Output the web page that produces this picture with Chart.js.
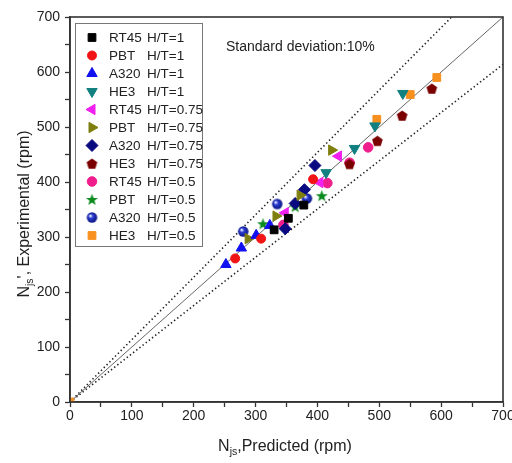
<!DOCTYPE html>
<html>
<head>
<meta charset="utf-8">
<script src="https://cdn.jsdelivr.net/npm/chart.js@4/dist/chart.umd.min.js"></script>
<style>
  html, body { margin: 0; padding: 0; background: #fff; }
</style>
</head>
<body>
<canvas id="njsChart" width="512" height="463"></canvas>
<script>
// series labels (legend order)
const seriesLabels = ['RT45 H/T=1', 'PBT   H/T=1', 'A320  H/T=1', 'HE3    H/T=1',
  'RT45 H/T=0.75', 'PBT   H/T=0.75', 'A320  H/T=0.75', 'HE3   H/T=0.75',
  'RT45 H/T=0.5', 'PBT   H/T=0.5', 'A320  H/T=0.5', 'HE3    H/T=0.5'];

// predicted (x) / experimental (y) Njs in rpm
const rt45_10_pred = [330, 353, 378];
const rt45_10_exp  = [313, 334, 358];
const pbt_10_pred  = [267, 309, 393];
const pbt_10_exp   = [261, 297, 405];
const a320_10_pred = [252, 277, 301, 323];
const a320_10_exp  = [250, 280, 303, 321];
const he3_10_pred  = [414, 460, 493, 538];
const he3_10_exp   = [417, 461, 502, 561];

const rt45_075_pred = [348, 404, 434];
const rt45_075_exp  = [344, 399, 447];
const pbt_075_pred  = [288, 333, 372, 423];
const pbt_075_exp   = [297, 338, 376, 458];
const a320_075_pred = [348, 364, 379, 396];
const a320_075_exp  = [315, 361, 386, 430];
const he3_075_pred  = [452, 497, 537, 585];
const he3_075_exp   = [433, 475, 521, 570];

const rt45_05_pred = [345, 416, 452, 482];
const rt45_05_exp  = [322, 398, 435, 463];
const pbt_05_pred  = [312, 364, 407];
const pbt_05_exp   = [324, 355, 375];
const a320_05_pred = [280, 335, 383];
const a320_05_exp  = [310, 360, 370];
const he3_05_pred  = [0, 496, 550, 593];
const he3_05_exp   = [0, 514, 559, 590];

// reference lines: y = x and the +/- deviation band
const parityX = [0, 700];
const parityY = [0, 700];
const upperX = [0, 617];
const upperY = [0, 700];
const lowerX = [0, 700];
const lowerY = [0, 614];

const axisMin = 0;
const axisMax = 700;
const annotation = 'Standard deviation:10%';

function pts(xs, ys) {
  return xs.map((x, i) => ({ x: x, y: ys[i] }));
}

// custom markers drawn once on small canvases
function markerCanvas(size, draw) {
  const c = document.createElement('canvas');
  c.width = size; c.height = size;
  draw(c.getContext('2d'), size / 2);
  return c;
}
const pentagon = markerCanvas(13, (g, m) => {
  g.fillStyle = '#7a0000';
  g.beginPath();
  for (let k = 0; k < 5; k++) {
    const a = -Math.PI / 2 + k * 2 * Math.PI / 5;
    g.lineTo(m + 5.6 * Math.cos(a), m + 0.6 + 5.6 * Math.sin(a));
  }
  g.closePath();
  g.fill();
});
const star = markerCanvas(15, (g, m) => {
  g.fillStyle = '#0b8a1e';
  g.beginPath();
  for (let k = 0; k < 10; k++) {
    const a = -Math.PI / 2 + k * Math.PI / 5;
    const r = k % 2 ? 2.6 : 6.2;
    g.lineTo(m + r * Math.cos(a), m + 0.5 + r * Math.sin(a));
  }
  g.closePath();
  g.fill();
});
const sphere = markerCanvas(13, (g, m) => {
  const grad = g.createRadialGradient(m - 1.8, m - 1.8, 0.5, m, m, 5.5);
  grad.addColorStop(0, '#e8ecff');
  grad.addColorStop(0.35, '#2a3ad0');
  grad.addColorStop(1, '#0a137a');
  g.fillStyle = grad;
  g.beginPath();
  g.arc(m, m, 5.2, 0, Math.PI * 2);
  g.fill();
});

function series(label, data, color, style, radius, rotation) {
  return {
    type: 'scatter',
    label: label,
    data: data,
    backgroundColor: color,
    borderColor: color,
    borderWidth: 1,
    pointStyle: style,
    pointRadius: radius,
    pointHoverRadius: radius,
    rotation: rotation || 0,
    order: 0
  };
}
function refLine(data, dashed) {
  return {
    type: 'scatter',
    label: '',
    data: data,
    showLine: true,
    borderColor: dashed ? '#222' : '#666',
    borderWidth: dashed ? 1.6 : 1,
    borderDash: dashed ? [1.4, 2.6] : [],
    pointRadius: 0,
    pointHoverRadius: 0,
    order: 10,
    isRef: true
  };
}

const datasets = [
  series(seriesLabels[0], pts(rt45_10_pred, rt45_10_exp), '#000000', 'rect', 5.5),
  series(seriesLabels[1], pts(pbt_10_pred, pbt_10_exp), '#f21414', 'circle', 4.5),
  series(seriesLabels[2], pts(a320_10_pred, a320_10_exp), '#1010f0', 'triangle', 6),
  series(seriesLabels[3], pts(he3_10_pred, he3_10_exp), '#128080', 'triangle', 6, 180),
  series(seriesLabels[4], pts(rt45_075_pred, rt45_075_exp), '#f020f0', 'triangle', 6, 270),
  series(seriesLabels[5], pts(pbt_075_pred, pbt_075_exp), '#7f7f10', 'triangle', 6, 90),
  series(seriesLabels[6], pts(a320_075_pred, a320_075_exp), '#0a0a80', 'rectRot', 6),
  series(seriesLabels[7], pts(he3_075_pred, he3_075_exp), '#7a0000', pentagon, 6),
  series(seriesLabels[8], pts(rt45_05_pred, rt45_05_exp), '#f01e8c', 'circle', 4.8),
  series(seriesLabels[9], pts(pbt_05_pred, pbt_05_exp), '#0b8a1e', star, 6),
  series(seriesLabels[10], pts(a320_05_pred, a320_05_exp), '#1a2ab0', sphere, 5),
  series(seriesLabels[11], pts(he3_05_pred, he3_05_exp), '#f7901e', 'rect', 5.5),
  refLine(pts(parityX, parityY), false),
  refLine(pts(upperX, upperY), true),
  refLine(pts(lowerX, lowerY), true)
];

// frame, titles with subscripts, annotation and boxed legend
const decorations = {
  id: 'decorations',
  afterDraw(chart) {
    const ctx = chart.ctx;
    const a = chart.chartArea;
    ctx.save();
    ctx.strokeStyle = '#333';
    ctx.lineWidth = 1.6;
    ctx.strokeRect(a.left, a.top, a.right - a.left, a.bottom - a.top);

    ctx.fillStyle = '#222';
    ctx.textBaseline = 'alphabetic';
    ctx.textAlign = 'left';
    ctx.font = '14px "Liberation Sans", Arial, sans-serif';
    ctx.fillText(annotation, 226, 51);

    // axis titles with "js" subscript
    function subTitle(parts, x, y) {
      ctx.font = '16px "Liberation Sans", Arial, sans-serif';
      const w1 = ctx.measureText(parts[0]).width;
      const w3 = ctx.measureText(parts[2]).width;
      ctx.font = '10.5px "Liberation Sans", Arial, sans-serif';
      const w2 = ctx.measureText(parts[1]).width;
      let cx = x - (w1 + w2 + w3) / 2;
      ctx.font = '16px "Liberation Sans", Arial, sans-serif';
      ctx.fillText(parts[0], cx, y);
      cx += w1;
      ctx.font = '10.5px "Liberation Sans", Arial, sans-serif';
      ctx.fillText(parts[1], cx, y + 4);
      cx += w2;
      ctx.font = '16px "Liberation Sans", Arial, sans-serif';
      ctx.fillText(parts[2], cx, y);
    }
    subTitle(['N', 'js', ',Predicted (rpm)'], 285, 451);
    ctx.save();
    ctx.translate(29, 214);
    ctx.rotate(-Math.PI / 2);
    subTitle(['N', 'js', "', Experimental (rpm)"], 0, 0);
    ctx.restore();

    // legend box
    ctx.strokeStyle = '#777';
    ctx.lineWidth = 1;
    ctx.strokeRect(75.5, 23.5, 127, 223);
    ctx.font = '13.5px "Liberation Sans", Arial, sans-serif';
    ctx.textBaseline = 'middle';
    let row = 0;
    chart.data.datasets.forEach(ds => {
      if (ds.isRef) return;
      const y = 37.5 + row * 18;
      ctx.fillStyle = ds.backgroundColor;
      ctx.strokeStyle = ds.borderColor;
      ctx.lineWidth = 1;
      Chart.helpers.drawPoint(ctx, {
        pointStyle: ds.pointStyle,
        rotation: ds.rotation,
        radius: ds.pointRadius,
        borderWidth: 1
      }, 92, y);
      const parts = ds.label.split(/\s+/);
      ctx.fillStyle = '#222';
      ctx.fillText(parts[0], 109, y + 1);
      ctx.fillText(parts[1], 147, y + 1);
      row++;
    });
    ctx.restore();
  }
};

new Chart(document.getElementById('njsChart'), {
  type: 'scatter',
  data: { datasets: datasets },
  options: {
    responsive: false,
    animation: false,
    layout: { padding: { left: 0, top: 17, right: 9, bottom: 0 } },
    plugins: {
      legend: { display: false },
      tooltip: { enabled: false }
    },
    scales: {
      x: {
        type: 'linear',
        min: axisMin,
        max: axisMax,
        afterFit(scale) { scale.height = 61; scale.paddingLeft = 0; scale.paddingRight = 0; },
        ticks: {
          stepSize: 50,
          autoSkip: false,
          maxRotation: 0,
          padding: 1,
          color: '#222',
          font: { size: 14, family: '"Liberation Sans", Arial, sans-serif' },
          callback: v => (v % 100 === 0 ? v : '')
        },
        grid: { drawOnChartArea: false, tickLength: 5, tickColor: '#333', tickWidth: 1.3 },
        border: { color: '#333', width: 1.6 }
      },
      y: {
        type: 'linear',
        min: axisMin,
        max: axisMax,
        afterFit(scale) { scale.width = 70; scale.paddingTop = 0; scale.paddingBottom = 0; },
        ticks: {
          stepSize: 50,
          autoSkip: false,
          padding: 5,
          color: '#222',
          font: { size: 14, family: '"Liberation Sans", Arial, sans-serif' },
          callback: v => (v % 100 === 0 ? v : '')
        },
        grid: { drawOnChartArea: false, tickLength: 5, tickColor: '#333', tickWidth: 1.3 },
        border: { color: '#333', width: 1.6 }
      }
    }
  },
  plugins: [decorations]
});
</script>
</body>
</html>
